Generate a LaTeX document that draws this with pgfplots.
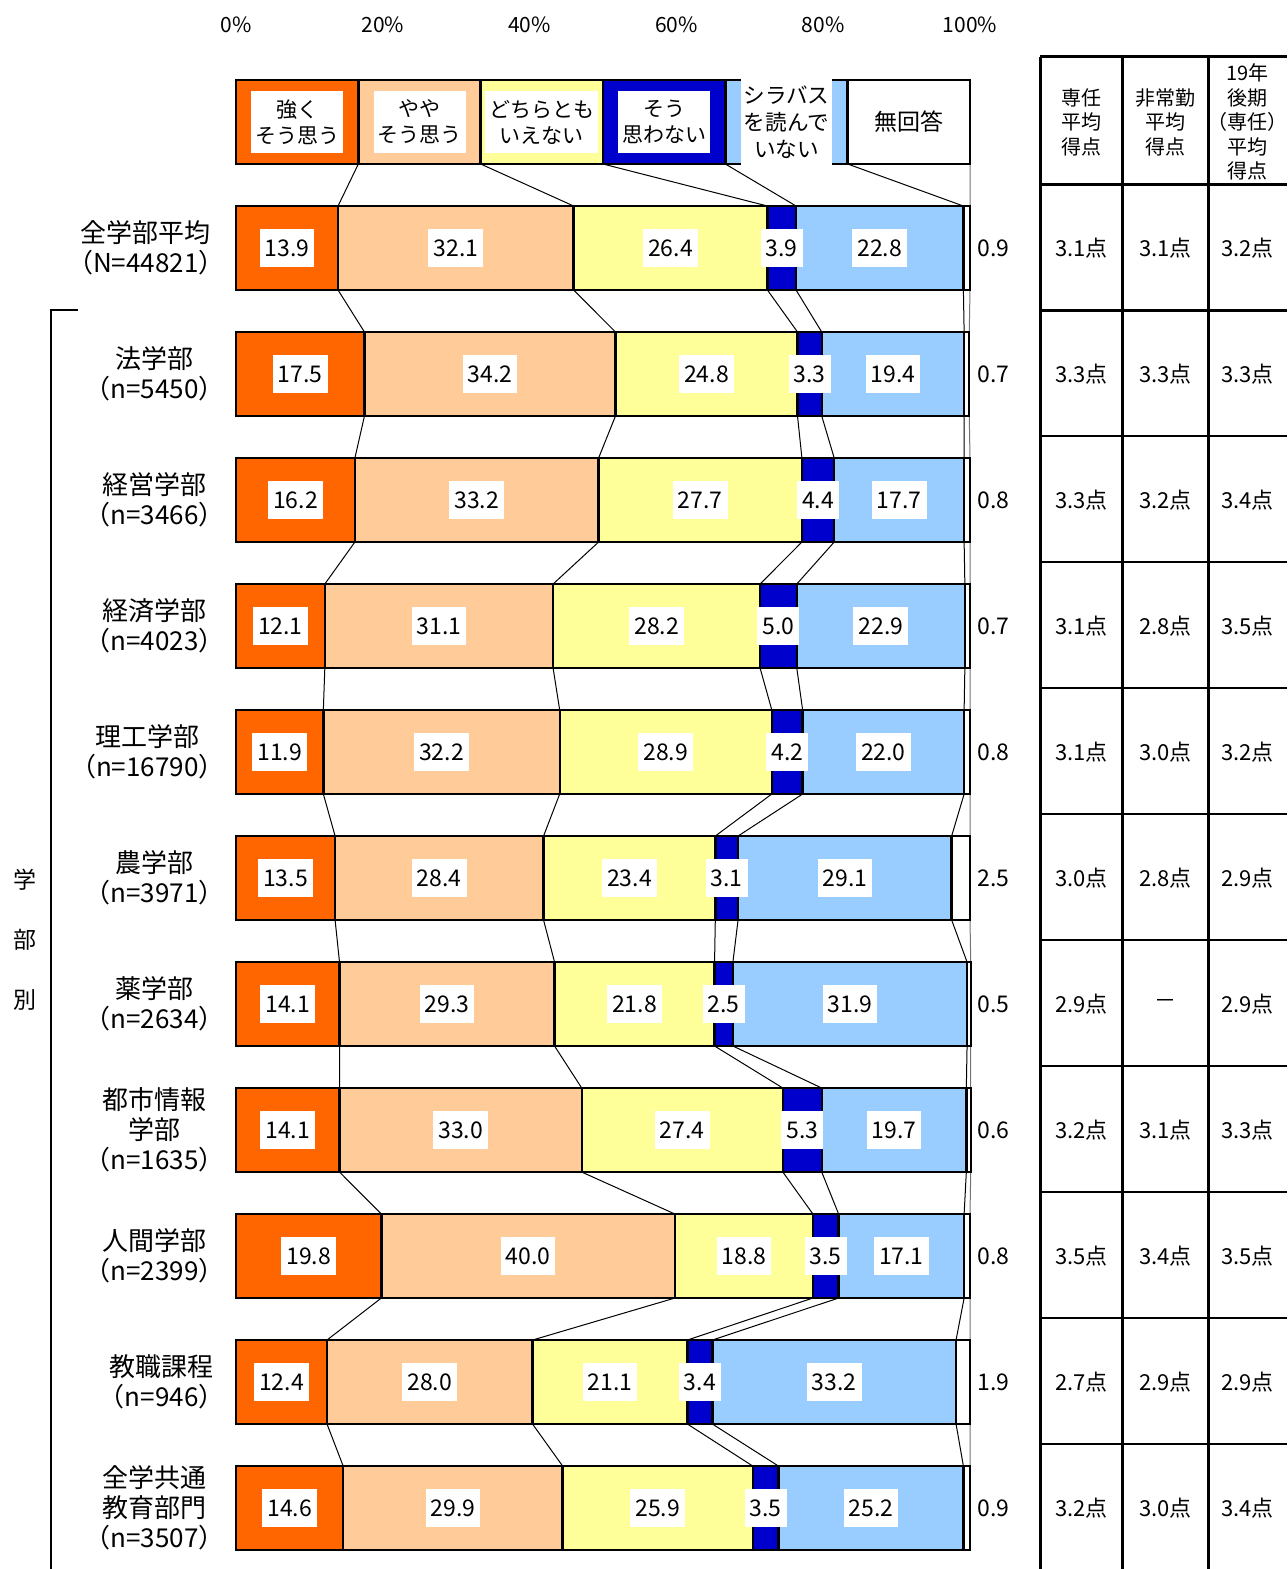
\documentclass[border=0pt]{standalone}
\usepackage{pgfplots}
\pgfplotsset{compat=1.18}
\usepackage{pgfplotstable}
\usepackage{fontspec}
\setmainfont{Noto Sans CJK JP}
\definecolor{cA}{HTML}{FF6600}
\definecolor{cB}{HTML}{FFCC99}
\definecolor{cC}{HTML}{FFFF99}
\definecolor{cD}{HTML}{0000CC}
\definecolor{cE}{HTML}{99CCFF}
\newcommand\fs[2]{\fontsize{#1}{#2}\selectfont}

\pgfplotstableread{
row a b c d e f
0 16.6667 16.6667 16.6667 16.6667 16.6667 16.6667
1 13.9 32.1 26.4 3.9 22.8 0.9
2 17.5 34.2 24.8 3.3 19.4 0.7
3 16.2 33.2 27.7 4.4 17.7 0.8
4 12.1 31.1 28.2 5.0 22.9 0.7
5 11.9 32.2 28.9 4.2 22.0 0.8
6 13.5 28.4 23.4 3.1 29.1 2.5
7 14.1 29.3 21.8 2.5 31.9 0.5
8 14.1 33.0 27.4 5.3 19.7 0.6
9 19.8 40.0 18.8 3.5 17.1 0.8
10 12.4 28.0 21.1 3.4 33.2 1.9
11 14.6 29.9 25.9 3.5 25.2 0.9
}\data

\pgfplotstableread{
row s a b c d e f
0 1 16.6667 16.6667 16.6667 16.6667 16.6667 16.6667
1 -1 13.9 32.1 26.4 3.9 22.8 0.9
1 1 13.9 32.1 26.4 3.9 22.8 0.9
2 -1 17.5 34.2 24.8 3.3 19.4 0.7
2 1 17.5 34.2 24.8 3.3 19.4 0.7
3 -1 16.2 33.2 27.7 4.4 17.7 0.8
3 1 16.2 33.2 27.7 4.4 17.7 0.8
4 -1 12.1 31.1 28.2 5.0 22.9 0.7
4 1 12.1 31.1 28.2 5.0 22.9 0.7
5 -1 11.9 32.2 28.9 4.2 22.0 0.8
5 1 11.9 32.2 28.9 4.2 22.0 0.8
6 -1 13.5 28.4 23.4 3.1 29.1 2.5
6 1 13.5 28.4 23.4 3.1 29.1 2.5
7 -1 14.1 29.3 21.8 2.5 31.9 0.5
7 1 14.1 29.3 21.8 2.5 31.9 0.5
8 -1 14.1 33.0 27.4 5.3 19.7 0.6
8 1 14.1 33.0 27.4 5.3 19.7 0.6
9 -1 19.8 40.0 18.8 3.5 17.1 0.8
9 1 19.8 40.0 18.8 3.5 17.1 0.8
10 -1 12.4 28.0 21.1 3.4 33.2 1.9
10 1 12.4 28.0 21.1 3.4 33.2 1.9
11 -1 14.6 29.9 25.9 3.5 25.2 0.9
11 1 14.6 29.9 25.9 3.5 25.2 0.9
}\links

\pgfplotsset{
  base/.style={scale only axis, width=643.5pt, height=784.5pt,
    xmin=-32.153, xmax=143.19, ymin=-0.9683, ymax=11.484,
    y dir=reverse, hide axis, clip=false, at={(0,0)}, anchor=south west},
  lab/.style={draw=none, nodes near coords={\pgfplotspointmeta}, point meta=explicit symbolic,
    skip coords between index={0}{1},
    every node near coord/.append style={anchor=center, fill=white, text=black,
      inner xsep=2.5pt, inner ysep=0pt, minimum height=19pt, font=\fs{11.5}{12}}},
  bar/.style={draw=black, line width=1.2pt},
}

\begin{document}
\begin{tikzpicture}
% connecting lines
\begin{axis}[base]
\addplot[black, line width=0.5pt] table[x expr=\thisrow{a}, y expr=\thisrow{row}+0.3333*\thisrow{s}] {\links};
\addplot[black, line width=0.5pt] table[x expr=\thisrow{a}+\thisrow{b}, y expr=\thisrow{row}+0.3333*\thisrow{s}] {\links};
\addplot[black, line width=0.5pt] table[x expr=\thisrow{a}+\thisrow{b}+\thisrow{c}, y expr=\thisrow{row}+0.3333*\thisrow{s}] {\links};
\addplot[black, line width=0.5pt] table[x expr=\thisrow{a}+\thisrow{b}+\thisrow{c}+\thisrow{d}, y expr=\thisrow{row}+0.3333*\thisrow{s}] {\links};
\addplot[black, line width=0.5pt] table[x expr=\thisrow{a}+\thisrow{b}+\thisrow{c}+\thisrow{d}+\thisrow{e}, y expr=\thisrow{row}+0.3333*\thisrow{s}] {\links};
\addplot[black!55, line width=0.5pt] table[x expr=\thisrow{a}+\thisrow{b}+\thisrow{c}+\thisrow{d}+\thisrow{e}+\thisrow{f}, y expr=\thisrow{row}+0.3333*\thisrow{s}] {\links};
\end{axis}
% bars
\begin{axis}[base, xbar stacked, bar width=0.6667, bar shift=0pt]
\addplot[bar, fill=cA] table[x=a, y=row] {\data};
\addplot[bar, fill=cB] table[x=b, y=row] {\data};
\addplot[bar, fill=cC] table[x=c, y=row] {\data};
\addplot[bar, fill=cD] table[x=d, y=row] {\data};
\addplot[bar, fill=cE] table[x=e, y=row] {\data};
\addplot[bar, fill=white] table[x=f, y=row] {\data};
\end{axis}
% labels, legend texts, table
\begin{axis}[base]
\addplot[lab] table[x expr=\thisrow{a}/2, y=row, meta=a] {\data};
\addplot[lab] table[x expr=\thisrow{a}+\thisrow{b}/2, y=row, meta=b] {\data};
\addplot[lab] table[x expr=\thisrow{a}+\thisrow{b}+\thisrow{c}/2, y=row, meta=c] {\data};
\addplot[lab] table[x expr=\thisrow{a}+\thisrow{b}+\thisrow{c}+\thisrow{d}/2, y=row, meta=d] {\data};
\addplot[lab] table[x expr=\thisrow{a}+\thisrow{b}+\thisrow{c}+\thisrow{d}+\thisrow{e}/2, y=row, meta=e] {\data};
\addplot[lab, every node near coord/.append style={anchor=west, fill=none, inner xsep=0pt}] table[x expr=100.95, y=row, meta=f] {\data};

% top tick labels
\tikzset{tk/.style={font=\fs{10.5}{12}}}
\node[tk] at (axis cs:0,-0.770) {0\%};
\node[tk] at (axis cs:20,-0.770) {20\%};
\node[tk] at (axis cs:40,-0.770) {40\%};
\node[tk] at (axis cs:60,-0.770) {60\%};
\node[tk] at (axis cs:80,-0.770) {80\%};
\node[tk] at (axis cs:100,-0.770) {100\%};

% legend texts
\tikzset{lg/.style={fill=white, align=center, inner xsep=2pt, inner ysep=0pt, minimum height=31pt, font=\fs{10.5}{13}}}
\node[lg] at (axis cs:8.333,0) {強く\\そう思う};
\node[lg] at (axis cs:25,0) {やや\\そう思う};
\node[lg] at (axis cs:41.667,0) {どちらとも\\いえない};
\node[lg] at (axis cs:58.333,0) {そう\\思わない};
\node[lg, minimum height=43pt, inner xsep=1pt, font=\fs{10.8}{13.5}] at (axis cs:75,0) {シラバス\\を読んで\\いない};
\node[font=\fs{11.5}{13}] at (axis cs:91.667,0) {無回答};

% category labels
\tikzset{cat/.style={anchor=east, align=center, font=\fs{13}{15}}}
\node[cat] at (axis cs:-0.6,1) {全学部平均\\（N=44821）};
\node[cat] at (axis cs:-0.6,2) {法学部\\（n=5450）};
\node[cat] at (axis cs:-0.6,3) {経営学部\\（n=3466）};
\node[cat] at (axis cs:-0.6,4) {経済学部\\（n=4023）};
\node[cat] at (axis cs:-0.6,5) {理工学部\\（n=16790）};
\node[cat] at (axis cs:-0.6,6) {農学部\\（n=3971）};
\node[cat] at (axis cs:-0.6,7) {薬学部\\（n=2634）};
\node[cat] at (axis cs:-0.6,8) {都市情報\\学部\\（n=1635）};
\node[cat] at (axis cs:-0.6,9) {人間学部\\（n=2399）};
\node[cat] at (axis cs:-0.6,10) {教職課程\\（n=946）};
\node[cat] at (axis cs:-0.6,11) {全学共通\\教育部門\\（n=3507）};

% bracket and vertical label
\draw[black, line width=0.6pt] (axis cs:-21.53,1.492) -- (axis cs:-25.20,1.492) -- (axis cs:-25.20,11.484);
\node[font=\fs{11.5}{12}] at (axis cs:-28.75,6.016) {学};
\node[font=\fs{11.5}{12}] at (axis cs:-28.75,6.492) {部};
\node[font=\fs{11.5}{12}] at (axis cs:-28.75,6.968) {別};

% right table
\draw[line width=1.5pt] (axis cs:109.54,-0.516) -- (axis cs:143.19,-0.516);
\draw[line width=1.5pt] (axis cs:109.54,0.492) -- (axis cs:143.19,0.492);
\draw[line width=1.5pt] (axis cs:109.54,1.492) -- (axis cs:143.19,1.492);
\draw[line width=0.6pt] (axis cs:109.54,2.492) -- (axis cs:143.19,2.492);
\draw[line width=0.6pt] (axis cs:109.54,3.492) -- (axis cs:143.19,3.492);
\draw[line width=0.6pt] (axis cs:109.54,4.492) -- (axis cs:143.19,4.492);
\draw[line width=0.6pt] (axis cs:109.54,5.492) -- (axis cs:143.19,5.492);
\draw[line width=0.6pt] (axis cs:109.54,6.492) -- (axis cs:143.19,6.492);
\draw[line width=0.6pt] (axis cs:109.54,7.492) -- (axis cs:143.19,7.492);
\draw[line width=0.6pt] (axis cs:109.54,8.492) -- (axis cs:143.19,8.492);
\draw[line width=0.6pt] (axis cs:109.54,9.492) -- (axis cs:143.19,9.492);
\draw[line width=0.6pt] (axis cs:109.54,10.492) -- (axis cs:143.19,10.492);
\draw[line width=1.5pt] (axis cs:109.54,-0.516) -- (axis cs:109.54,11.484);
\draw[line width=1.5pt] (axis cs:120.84,-0.516) -- (axis cs:120.84,11.484);
\draw[line width=1.5pt] (axis cs:132.43,-0.516) -- (axis cs:132.43,11.484);

\tikzset{th/.style={align=center, font=\fs{10}{12.3}}}
\node[th] at (axis cs:115.19,0) {専任\\平均\\得点};
\node[th] at (axis cs:126.63,0) {非常勤\\平均\\得点};
\node[th] at (axis cs:137.81,0) {19年\\後期\\（専任）\\平均\\得点};

\tikzset{td/.style={font=\fs{11}{12}}}
\node[td] at (axis cs:115.19,1) {3.1点}; \node[td] at (axis cs:126.63,1) {3.1点}; \node[td] at (axis cs:137.81,1) {3.2点};
\node[td] at (axis cs:115.19,2) {3.3点}; \node[td] at (axis cs:126.63,2) {3.3点}; \node[td] at (axis cs:137.81,2) {3.3点};
\node[td] at (axis cs:115.19,3) {3.3点}; \node[td] at (axis cs:126.63,3) {3.2点}; \node[td] at (axis cs:137.81,3) {3.4点};
\node[td] at (axis cs:115.19,4) {3.1点}; \node[td] at (axis cs:126.63,4) {2.8点}; \node[td] at (axis cs:137.81,4) {3.5点};
\node[td] at (axis cs:115.19,5) {3.1点}; \node[td] at (axis cs:126.63,5) {3.0点}; \node[td] at (axis cs:137.81,5) {3.2点};
\node[td] at (axis cs:115.19,6) {3.0点}; \node[td] at (axis cs:126.63,6) {2.8点}; \node[td] at (axis cs:137.81,6) {2.9点};
\node[td] at (axis cs:115.19,7) {2.9点}; \node[td] at (axis cs:126.63,7) {－}; \node[td] at (axis cs:137.81,7) {2.9点};
\node[td] at (axis cs:115.19,8) {3.2点}; \node[td] at (axis cs:126.63,8) {3.1点}; \node[td] at (axis cs:137.81,8) {3.3点};
\node[td] at (axis cs:115.19,9) {3.5点}; \node[td] at (axis cs:126.63,9) {3.4点}; \node[td] at (axis cs:137.81,9) {3.5点};
\node[td] at (axis cs:115.19,10) {2.7点}; \node[td] at (axis cs:126.63,10) {2.9点}; \node[td] at (axis cs:137.81,10) {2.9点};
\node[td] at (axis cs:115.19,11) {3.2点}; \node[td] at (axis cs:126.63,11) {3.0点}; \node[td] at (axis cs:137.81,11) {3.4点};
\end{axis}
\pgfresetboundingbox
\path[use as bounding box] (0,0) rectangle (643.5pt,784.5pt);
\end{tikzpicture}
\end{document}
